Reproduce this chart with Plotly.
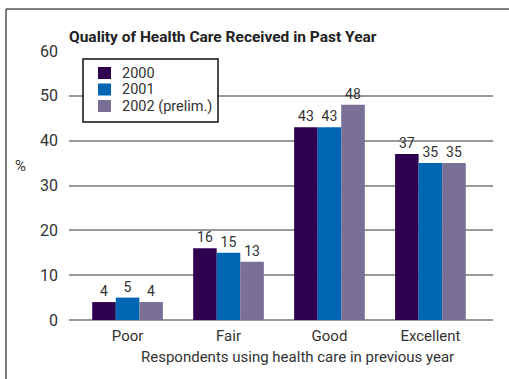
import plotly.graph_objects as go

categories = ["Poor", "Fair", "Good", "Excellent"]
series_names = ["2000", "2001", "2002 (prelim.)"]
values_2000 = [4, 16, 43, 37]
values_2001 = [5, 15, 43, 35]
values_2002 = [4, 13, 48, 35]
y_ticks = [0, 10, 20, 30, 40, 50, 60]

colors = ["#2e004f", "#0066b3", "#7a6f96"]
FONT = "Roboto"
TXT = "#333333"
W, H = 509, 379
L, R, T, B = 69, 16, 51, 59
PW, PH = W - L - R, H - T - B


def px(x):
    return (x - L) / PW


def py(y):
    return 1 - (y - T) / PH


fig = go.Figure()
for name, vals, col in zip(series_names, [values_2000, values_2001, values_2002], colors):
    fig.add_trace(go.Bar(
        x=categories, y=vals, name=name,
        marker=dict(color=col, line=dict(width=0)),
        text=[str(v) for v in vals], textposition="outside",
        textfont=dict(family=FONT, size=14, color=TXT),
        cliponaxis=False, showlegend=False,
    ))

fig.update_layout(
    width=W, height=H,
    margin=dict(l=L, r=R, t=T, b=B, pad=0),
    paper_bgcolor="white", plot_bgcolor="white",
    barmode="group", bargap=0.3, bargroupgap=0,
    font=dict(family=FONT, color=TXT),
    title=dict(
        text="<b>Quality of Health Care Received in Past Year</b>",
        x=L / W, xanchor="left", xref="container",
        y=1 - 37 / H, yanchor="middle", yref="container",
        font=dict(family=FONT, size=15.5, color="#222222"),
    ),
    showlegend=False,
)
fig.update_xaxes(
    showgrid=False, showline=False, ticks="",
    tickfont=dict(family=FONT, size=15, color=TXT),
    ticklabelstandoff=5,
    range=[-0.58, 3.62],
)
fig.update_yaxes(
    range=[0, 60], tickvals=y_ticks, ticks="",
    showgrid=True, gridcolor="#999999", gridwidth=2,
    zeroline=True, zerolinecolor="#999999", zerolinewidth=2,
    showline=False,
    tickfont=dict(family=FONT, size=16, color=TXT),
    ticklabelstandoff=10,
)

# Legend box with colour swatches and series names
fig.add_shape(type="rect", xref="paper", yref="paper",
              x0=px(83), x1=px(218), y0=py(59), y1=py(122),
              fillcolor="white", line=dict(color="#111111", width=1.5), layer="above")
for i, (name, col) in enumerate(zip(series_names, colors)):
    cy = 73 + i * 16.5
    fig.add_shape(type="rect", xref="paper", yref="paper",
                  x0=px(98), x1=px(111), y0=py(cy - 6), y1=py(cy + 6),
                  fillcolor=col, line=dict(width=0), layer="above")
    fig.add_annotation(text=name, xref="paper", yref="paper",
                       x=px(120), y=py(cy), xanchor="left", yanchor="middle",
                       showarrow=False, font=dict(family=FONT, size=14.5, color=TXT))

fig.add_annotation(text="%", xref="paper", yref="paper",
                   x=px(20), y=py(166), xanchor="center", yanchor="middle",
                   showarrow=False, font=dict(family=FONT, size=15, color=TXT))
fig.add_annotation(text="Respondents using health care in previous year",
                   xref="paper", yref="paper",
                   x=px(297), y=py(357), xanchor="center", yanchor="middle",
                   showarrow=False, font=dict(family=FONT, size=15, color=TXT))
# Outer frame: top and left rules
fig.add_shape(type="line", xref="paper", yref="paper",
              x0=px(6), x1=px(W), y0=py(9), y1=py(9),
              line=dict(color="#555555", width=1.5))
fig.add_shape(type="line", xref="paper", yref="paper",
              x0=px(6), x1=px(6), y0=py(9), y1=py(H),
              line=dict(color="#555555", width=1.5))

fig.write_html("out.html")
